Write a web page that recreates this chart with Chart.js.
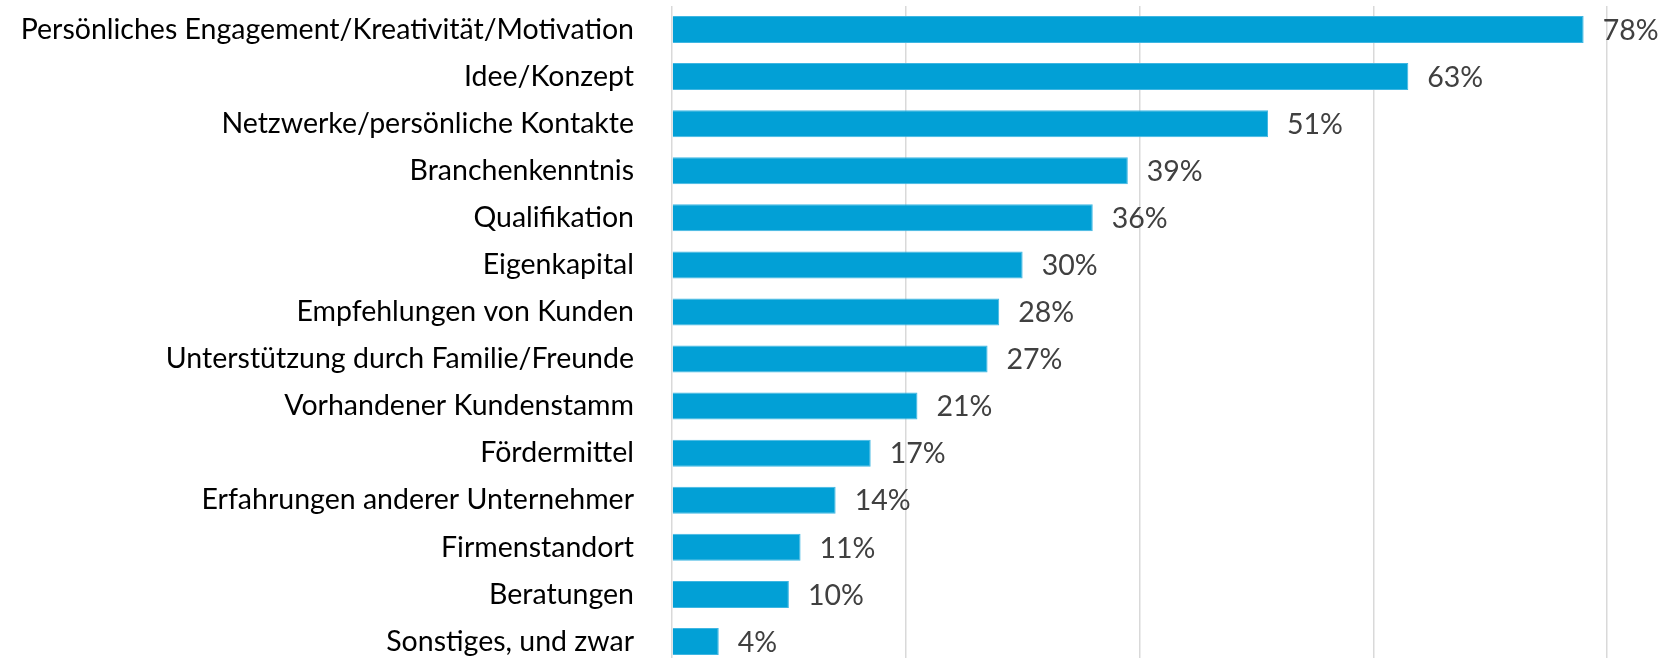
<!DOCTYPE html>
<html>
<head>
<meta charset="utf-8">
<script src="https://cdn.jsdelivr.net/npm/chart.js@4"></script>
<style>
  html, body { margin: 0; padding: 0; background: #fff; overflow: hidden; }
  #wrap { position: relative; width: 1660px; height: 665px; }
</style>
</head>
<body>
<div id="wrap"><canvas id="chart"></canvas></div>
<script>
const categories = [
  'Persönliches Engagement/Kreativität/Motivation',
  'Idee/Konzept',
  'Netzwerke/persönliche Kontakte',
  'Branchenkenntnis',
  'Qualifikation',
  'Eigenkapital',
  'Empfehlungen von Kunden',
  'Unterstützung durch Familie/Freunde',
  'Vorhandener Kundenstamm',
  'Fördermittel',
  'Erfahrungen anderer Unternehmer',
  'Firmenstandort',
  'Beratungen',
  'Sonstiges, und zwar'
];
const values = [78, 63, 51, 39, 36, 30, 28, 27, 21, 17, 14, 11, 10, 4];
const axisMax = 80;
const gridStep = 20;

const FONT = 'Lato, "Open Sans", sans-serif';

/* ── value labels at bar ends ── */
const valueLabels = {
  id: 'valueLabels',
  afterDatasetsDraw(chart) {
    const { ctx } = chart;
    const meta = chart.getDatasetMeta(0);
    ctx.save();
    ctx.font = '28.5px ' + FONT;
    ctx.fillStyle = '#404040';
    ctx.textAlign = 'left';
    ctx.textBaseline = 'middle';
    meta.data.forEach((bar, i) => {
      ctx.fillText(values[i] + '%', bar.x + 19, bar.y + 1);
    });
    ctx.restore();
  }
};

new Chart(document.getElementById('chart'), {
  type: 'bar',
  data: {
    labels: categories,
    datasets: [{
      data: values,
      backgroundColor: '#02a0d6',
      borderColor: '#3fb6e2',
      borderWidth: 1,
      borderSkipped: 'start',
      barPercentage: 0.574,
      categoryPercentage: 1,
    }]
  },
  options: {
    indexAxis: 'y',
    responsive: true,
    maintainAspectRatio: false,
    animation: false,
    layout: { padding: { top: 6, right: 53, bottom: 0, left: 0 } },
    plugins: {
      legend: { display: false },
      tooltip: { enabled: false }
    },
    scales: {
      x: {
        min: 0,
        max: axisMax,
        ticks: { display: false, stepSize: gridStep },
        grid: { color: '#d9d9d9', lineWidth: 1.5, drawTicks: false },
        border: { display: false }
      },
      y: {
        afterFit(scale) {
          scale.width = 672;
          scale.paddingTop = 0;
          scale.paddingBottom = 0;
        },
        ticks: {
          color: '#000',
          padding: 38,
          font: { family: FONT, size: 28.5 }
        },
        grid: { display: false, drawTicks: false },
        border: { display: false }
      }
    }
  },
  plugins: [valueLabels]
});
</script>
</body>
</html>
